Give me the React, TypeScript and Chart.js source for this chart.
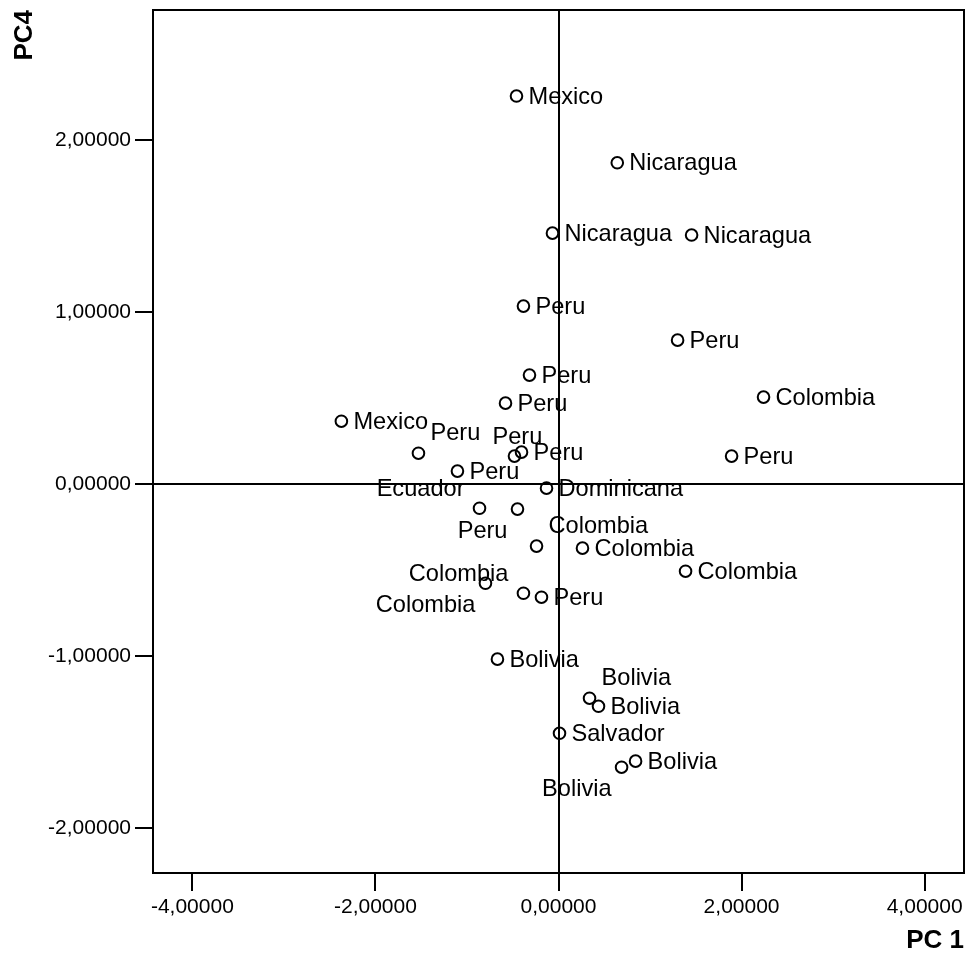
import React, { useEffect, useRef } from 'react';
import { Chart, registerables } from 'chart.js';

Chart.register(...registerables);

// ---- data ----
const countries: string[] = [
  'Mexico', 'Nicaragua', 'Nicaragua', 'Nicaragua', 'Peru', 'Peru', 'Colombia', 'Peru',
  'Peru', 'Peru', 'Mexico', 'Peru', 'Peru', 'Peru', 'Peru', 'Dominicana', 'Ecuador',
  'Peru', 'Colombia', 'Colombia', 'Colombia', 'Colombia', 'Colombia', 'Peru', 'Bolivia',
  'Bolivia', 'Bolivia', 'Salvador', 'Bolivia', 'Bolivia',
];
const pc1: number[] = [
  -0.459, 0.642, -0.066, 1.454, -0.383, 1.301, 2.240, 1.891,
  -0.317, -0.579, -2.372, -1.530, -1.104, -0.481, -0.404, -0.131, -0.863,
  -0.448, -0.240, 0.262, 1.388, -0.798, -0.383, -0.186, -0.667,
  0.339, 0.437, 0.011, 0.842, 0.689,
];
const pc4: number[] = [
  2.256, 1.868, 1.459, 1.448, 1.035, 0.837, 0.506, 0.163,
  0.634, 0.471, 0.366, 0.180, 0.076, 0.163, 0.186, -0.023, -0.140,
  -0.145, -0.360, -0.372, -0.506, -0.576, -0.634, -0.657, -1.017,
  -1.244, -1.291, -1.448, -1.610, -1.645,
];
const xTickValues: number[] = [-4, -2, 0, 2, 4];
const yTickValues: number[] = [-2, -1, 0, 1, 2];
const xAxisTitle = 'PC 1';
const yAxisTitle = 'PC4';

// label placement codes (style only)
const labelPlacement: string[] = [
  'R', 'R', 'R', 'R', 'R', 'R', 'R', 'R',
  'R', 'R', 'R', 'AR', 'R', 'A', 'R', 'R', 'AL',
  'BL', 'AR', 'R', 'R', 'BL', 'AL', 'R', 'R',
  'AR', 'R', 'R', 'R', 'BL',
];

const fmt = (v: number) => Number(v).toFixed(5).replace('.', ',');

const LABEL_FONT = '23.6px "Liberation Sans", Arial, sans-serif';

const framePlugin = {
  id: 'frameAndLabels',
  afterDatasetsDraw(chart: any) {
    const { ctx, chartArea } = chart;
    ctx.save();
    ctx.strokeStyle = '#000';
    ctx.lineWidth = 2;
    ctx.strokeRect(chartArea.left, chartArea.top, chartArea.right - chartArea.left, chartArea.bottom - chartArea.top);

    ctx.fillStyle = '#000';
    ctx.font = LABEL_FONT;
    ctx.textBaseline = 'middle';
    const meta = chart.getDatasetMeta(0);
    meta.data.forEach((pt: any, i: number) => {
      const text = countries[i];
      const p = labelPlacement[i] || 'R';
      const w = ctx.measureText(text).width;
      let x = pt.x + 12;
      let y = pt.y + 1;
      if (p === 'AR') { x = pt.x + 12; y = pt.y - 20; }
      else if (p === 'A') { x = pt.x - 22; y = pt.y - 19; }
      else if (p === 'AL') { x = pt.x - 15 - w; y = pt.y - 19; }
      else if (p === 'BL') { x = pt.x - 10 - w; y = pt.y + 22; }
      ctx.textAlign = 'left';
      ctx.fillText(text, x, y);
    });
    ctx.restore();
  },
};

export default function App() {
  const ref = useRef<HTMLCanvasElement | null>(null);

  useEffect(() => {
    document.body.style.margin = '0';
    const canvas = ref.current;
    if (!canvas) return;
    const points = pc1.map((x, i) => ({ x, y: pc4[i] }));
    const tickFont = { family: '"Liberation Sans", Arial, sans-serif', size: 21 };
    const titleFont = { family: '"Liberation Sans", Arial, sans-serif', size: 26, weight: 'bold' as const };
    const chart = new Chart(canvas, {
      type: 'scatter',
      data: {
        datasets: [
          {
            data: points,
            pointStyle: 'circle',
            pointRadius: 5.8,
            pointHoverRadius: 5.8,
            pointBorderWidth: 2,
            pointBorderColor: '#000',
            pointBackgroundColor: 'rgba(0,0,0,0)',
            showLine: false,
          },
        ],
      },
      plugins: [framePlugin],
      options: {
        animation: false,
        responsive: true,
        maintainAspectRatio: false,
        layout: { autoPadding: false, padding: { left: 0, top: 10, right: 4, bottom: 0 } },
        plugins: {
          legend: { display: false },
          tooltip: { enabled: false },
        },
        scales: {
          x: {
            type: 'linear',
            min: -4.43,
            max: 4.43,
            afterBuildTicks: (scale: any) => {
              scale.ticks = xTickValues.map((v) => ({ value: v }));
            },
            afterFit: (scale: any) => {
              scale.height = 88;
              scale.paddingLeft = 0;
              scale.paddingRight = 0;
            },
            border: { display: false },
            grid: {
              drawOnChartArea: true,
              drawTicks: true,
              tickLength: 18,
              lineWidth: 2,
              tickWidth: 2,
              tickColor: '#000',
              color: (c: any) => (c.tick && c.tick.value === 0 ? '#000' : 'rgba(0,0,0,0)'),
            },
            ticks: {
              color: '#000',
              font: tickFont,
              padding: 4,
              maxRotation: 0,
              autoSkip: false,
              callback: (v: any) => fmt(v),
            },
            title: {
              display: true,
              text: xAxisTitle,
              align: 'end',
              color: '#000',
              font: titleFont,
              padding: { top: 0, bottom: 5 },
            },
          },
          y: {
            type: 'linear',
            min: -2.26,
            max: 2.756,
            afterBuildTicks: (scale: any) => {
              scale.ticks = yTickValues.map((v) => ({ value: v }));
            },
            afterFit: (scale: any) => {
              scale.width = 153;
              scale.paddingTop = 0;
              scale.paddingBottom = 0;
            },
            border: { display: false },
            grid: {
              drawOnChartArea: true,
              drawTicks: true,
              tickLength: 18,
              lineWidth: 2,
              tickWidth: 2,
              tickColor: '#000',
              color: (c: any) => (c.tick && c.tick.value === 0 ? '#000' : 'rgba(0,0,0,0)'),
            },
            ticks: {
              color: '#000',
              font: tickFont,
              padding: 4,
              autoSkip: false,
              callback: (v: any) => fmt(v),
            },
            title: {
              display: true,
              text: yAxisTitle,
              align: 'end',
              color: '#000',
              font: titleFont,
              padding: { top: 9, bottom: 0 },
            },
          },
        },
      },
    } as any);
    return () => chart.destroy();
  }, []);

  return (
    <div style={{ position: 'fixed', left: 0, top: 0, width: 968, height: 961, background: '#fff' }}>
      <canvas ref={ref} />
    </div>
  );
}
